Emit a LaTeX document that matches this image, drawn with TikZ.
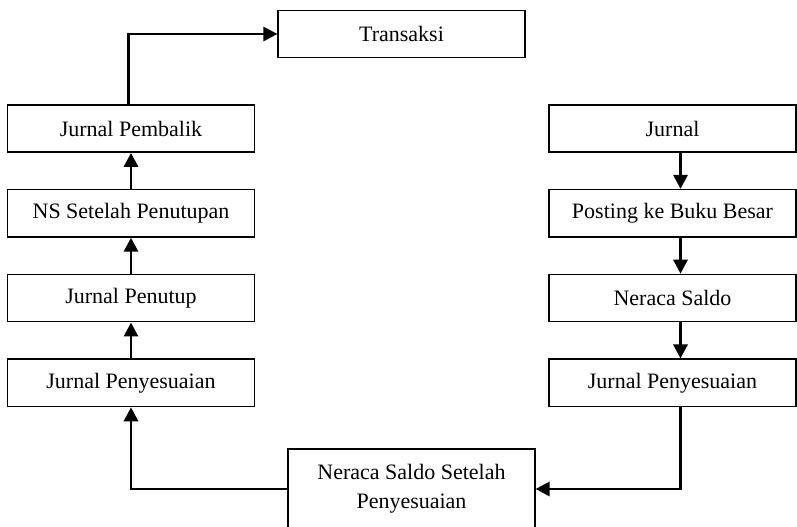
\documentclass[tikz,border=0pt]{standalone}
\usepackage{fontspec}
\setmainfont{Liberation Serif}
\usetikzlibrary{arrows.meta, positioning}

\begin{document}
\begin{tikzpicture}[x=0.75pt, y=-0.75pt,
    node distance=27pt,
    >={Triangle[length=10.5pt,width=10.5pt]},
    every node/.style={font=\fontsize{16.5}{21.75}\selectfont},
    stage/.style={draw, line width=1.1pt, minimum width=185pt,
        minimum height=35.5pt, inner sep=2pt, align=center},
    flow/.style={->, line width=2.2pt}]

    \useasboundingbox (0,0) rectangle (797,527);

    \node[stage] (transaksi) at (401.5,34) {Transaksi};

    % right column
    \node[stage] (jurnal)   at (672.5,128.5) {Jurnal};
    \node[stage] (posting)  [below=of jurnal]  {Posting ke Buku Besar};
    \node[stage] (neraca)   [below=of posting] {Neraca Saldo};
    \node[stage] (penyR)    [below=of neraca]  {Jurnal Penyesuaian};

    % left column
    \node[stage] (pembalik) at (131,128.5) {Jurnal Pembalik};
    \node[stage] (nsTutup)  [below=of pembalik] {NS Setelah Penutupan};
    \node[stage] (penutup)  [below=of nsTutup]  {Jurnal Penutup};
    \node[stage] (penyL)    [below=of penutup]  {Jurnal Penyesuaian};

    \node[stage, minimum height=60pt] (nsSesuai) at (411.5,489)
        {Neraca Saldo Setelah\\Penyesuaian};

    \path[flow]
    (transaksi.east) -| ([xshift=6pt]jurnal.north);
    \draw[flow] ([xshift=6pt]jurnal.south)  -- ([xshift=6pt]posting.north);
    \draw[flow] ([xshift=6pt]posting.south) -- ([xshift=6pt]neraca.north);
    \draw[flow] ([xshift=6pt]neraca.south)  -- ([xshift=6pt]penyR.north);
    \draw[flow] ([xshift=6pt]penyR.south) |- (nsSesuai.east);
    \draw[flow] (nsSesuai.west) -| (penyL.south);
    \draw[flow] (penyL.north) -- (penutup.south);
    \draw[flow] (penutup.north) -- (nsTutup.south);
    \draw[flow] (nsTutup.north) -- (pembalik.south);
    \draw[flow] ([xshift=-2pt]pembalik.north) |- (transaksi.west);
\end{tikzpicture}
\end{document}
